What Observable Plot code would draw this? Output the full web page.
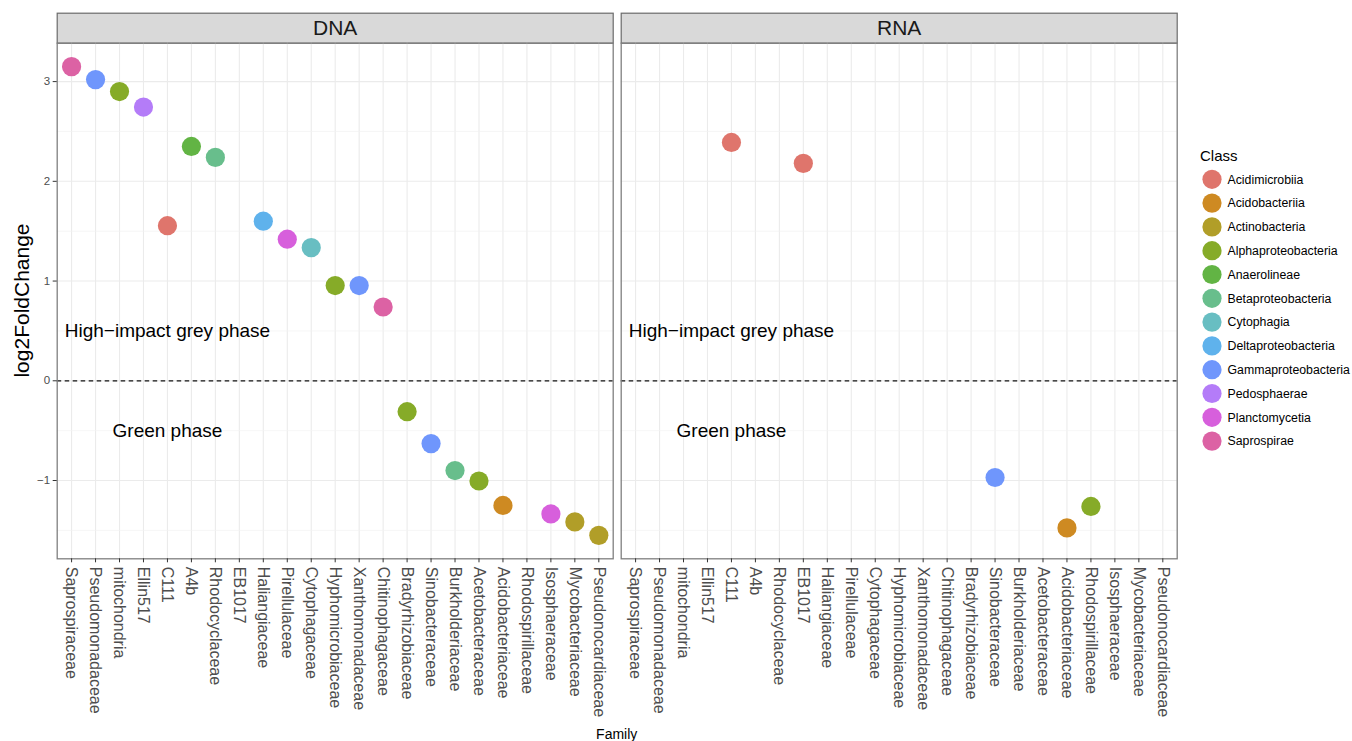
<!DOCTYPE html>
<html><head><meta charset="utf-8">
<script src="https://cdn.jsdelivr.net/npm/d3@7"></script>
<script src="https://cdn.jsdelivr.net/npm/@observablehq/plot@0.6"></script>
<style>
body{margin:0;background:#fff}
#chart{position:relative;width:1352px;height:741px;overflow:hidden}
</style>
</head><body><div id="chart"></div>
<script>
// ---- data ----
const families = ["Saprospiraceae","Pseudomonadaceae","mitochondria","Ellin517","C111","A4b","Rhodocyclaceae","EB1017","Haliangiaceae","Pirellulaceae","Cytophagaceae","Hyphomicrobiaceae","Xanthomonadaceae","Chitinophagaceae","Bradyrhizobiaceae","Sinobacteraceae","Burkholderiaceae","Acetobacteraceae","Acidobacteriaceae","Rhodospirillaceae","Isosphaeraceae","Mycobacteriaceae","Pseudonocardiaceae"];
const classes = ["Acidimicrobiia","Acidobacteriia","Actinobacteria","Alphaproteobacteria","Anaerolineae","Betaproteobacteria","Cytophagia","Deltaproteobacteria","Gammaproteobacteria","Pedosphaerae","Planctomycetia","Saprospirae"];
const classColors = ["#DF756C","#CE8A22","#B19E28","#86AB28","#62B444","#68BE8C","#68BEC2","#5FB2EC","#6F96FC","#B47CF8","#D75FDC","#DC62A4"];
const panels = ["DNA","RNA"];

const dnaFamily = ["Saprospiraceae","Pseudomonadaceae","mitochondria","Ellin517","C111","A4b","Rhodocyclaceae","Haliangiaceae","Pirellulaceae","Cytophagaceae","Hyphomicrobiaceae","Xanthomonadaceae","Chitinophagaceae","Bradyrhizobiaceae","Sinobacteraceae","Burkholderiaceae","Acetobacteraceae","Acidobacteriaceae","Isosphaeraceae","Mycobacteriaceae","Pseudonocardiaceae"];
const dnaValue = [3.15,3.02,2.90,2.745,1.555,2.35,2.24,1.60,1.42,1.335,0.955,0.955,0.74,-0.31,-0.63,-0.90,-1.005,-1.25,-1.335,-1.415,-1.55];
const dnaClass = ["Saprospirae","Gammaproteobacteria","Alphaproteobacteria","Pedosphaerae","Acidimicrobiia","Anaerolineae","Betaproteobacteria","Deltaproteobacteria","Planctomycetia","Cytophagia","Alphaproteobacteria","Gammaproteobacteria","Saprospirae","Alphaproteobacteria","Gammaproteobacteria","Betaproteobacteria","Alphaproteobacteria","Acidobacteriia","Planctomycetia","Actinobacteria","Actinobacteria"];

const rnaFamily = ["C111","EB1017","Sinobacteraceae","Acidobacteriaceae","Rhodospirillaceae"];
const rnaValue = [2.39,2.18,-0.97,-1.475,-1.26];
const rnaClass = ["Acidimicrobiia","Acidimicrobiia","Gammaproteobacteria","Acidobacteriia","Alphaproteobacteria"];

const yTicks = [-1,0,1,2,3];
const yMinorTicks = [-1.5,-0.5,0.5,1.5,2.5];
const noteText = ["High−impact grey phase","Green phase"];
const noteFamily = ["C111","C111"];
const noteValue = [0.5,-0.5];

// ---- tables built from the arrays ----
const points = [
  ...dnaFamily.map((f,i)=>({panel:"DNA", family:f, value:dnaValue[i], cls:dnaClass[i]})),
  ...rnaFamily.map((f,i)=>({panel:"RNA", family:f, value:rnaValue[i], cls:rnaClass[i]}))
];
const notes = panels.flatMap(p => noteText.map((t,i)=>({panel:p, family:noteFamily[i], value:noteValue[i], label:t})));

// ---- layout ----
const W = 1352, H = 741;
const M = {top: 42.7, right: 175.3, bottom: 182.7, left: 56.7};
const panelH = H - M.top - M.bottom;
const stripH = 30;
const gap = 8;
const innerW = W - M.left - M.right;
const fxPad = 2*gap/(innerW + gap);
const ext = d3.extent(points, d=>d.value);
const span = ext[1]-ext[0];
const yDomain = [ext[0]-0.05*span, ext[1]+0.05*span];
const FONT = "'Liberation Sans', Arial, Helvetica, sans-serif";
const fmt = d3.format("d");

const plot = Plot.plot({
  width: W, height: H,
  marginTop: M.top, marginRight: M.right, marginBottom: M.bottom, marginLeft: M.left,
  style: {fontFamily: FONT, background: "#fff", overflow: "visible"},
  fx: {domain: panels, paddingInner: fxPad, paddingOuter: 0, round: false, axis: null, label: null},
  x: {type: "point", domain: families, padding: 0.6, round: false, axis: null, label: null},
  y: {domain: yDomain, axis: null, label: null},
  color: {domain: classes, range: classColors},
  marks: [
    Plot.frame({fill: "#d9d9d9", stroke: "#6b6b6b", strokeWidth: 1.2, insetTop: -stripH, insetBottom: panelH}),
    Plot.text(panels, {fx: d=>d, text: d=>d, frameAnchor: "top", dy: -stripH/2, fontSize: 21, fill: "#1a1a1a", lineAnchor: "middle"}),
    Plot.gridX({stroke: "#ebebeb", strokeOpacity: 1, strokeWidth: 1.1}),
    Plot.gridY(yMinorTicks, {stroke: "#f2f2f2", strokeOpacity: 1, strokeWidth: 0.7}),
    Plot.gridY(yTicks, {stroke: "#ebebeb", strokeOpacity: 1, strokeWidth: 1.1}),
    Plot.ruleY([0], {stroke: "#111", strokeWidth: 1.2, strokeDasharray: "4.5,3.5"}),
    Plot.text(notes, {fx: "panel", x: "family", y: "value", text: "label", fontSize: 19, fill: "#000"}),
    Plot.dot(points, {fx: "panel", x: "family", y: "value", fill: "cls", r: 9.6}),
    Plot.frame({stroke: "#7f7f7f", strokeWidth: 1.3}),
    Plot.axisY(yTicks, {tickSize: 4, tickPadding: 3, fontSize: 11.5, color: "#4d4d4d", stroke: "#333", label: null, tickFormat: fmt}),
    Plot.axisX({anchor: "bottom", tickSize: 4, tickPadding: 4, tickRotate: 90, fontSize: 16, color: "#4d4d4d", stroke: "#333", label: null})
  ]
});

document.getElementById("chart").appendChild(plot);

// ---- titles & legend ----
const svg = d3.select(plot);
svg.append("text")
  .attr("transform", `translate(22,${M.top + panelH/2}) rotate(-90)`)
  .attr("text-anchor", "middle").attr("dy", "0.35em")
  .style("font-family", FONT).style("font-size", "21px").attr("fill", "#000")
  .text("log2FoldChange");
svg.append("text")
  .attr("x", M.left + innerW/2).attr("y", 738.5)
  .attr("text-anchor", "middle")
  .style("font-family", FONT).style("font-size", "14px").attr("fill", "#000")
  .text("Family");

const color = plot.scale("color");
const lg = svg.append("g").attr("transform", "translate(1200,0)").attr("text-anchor", "start");
lg.append("text").attr("x", 0).attr("y", 156).attr("dy", "0.35em").attr("text-anchor", "start")
  .style("font-family", FONT).style("font-size", "15px").attr("fill", "#000").text("Class");
const items = lg.selectAll("g.item").data(classes).join("g")
  .attr("transform", (d,i)=>`translate(0,${179.3 + i*23.8})`);
items.append("circle").attr("cx", 12).attr("cy", 0).attr("r", 9.6).attr("fill", d=>color.apply(d));
items.append("text").attr("x", 27.5).attr("y", 0).attr("dy", "0.35em").attr("text-anchor", "start")
  .style("font-family", FONT).style("font-size", "12.3px").attr("fill", "#000").text(d=>d);
</script>
</body></html>
